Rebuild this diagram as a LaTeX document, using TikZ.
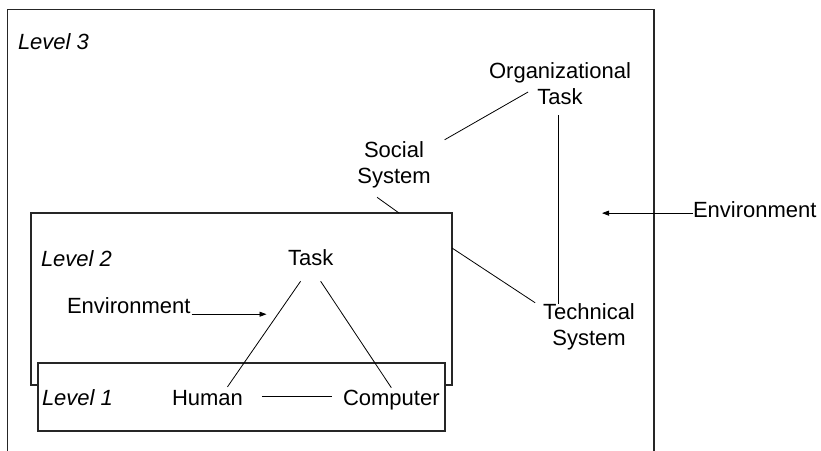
\documentclass[tikz,border=0pt]{standalone}
\usepackage{fontspec}
\setmainfont{Liberation Sans}
\usetikzlibrary{arrows.meta,calc}
\begin{document}
\begin{tikzpicture}[x=1pt,y=-1pt,
  lbl/.style={inner sep=0pt,outer sep=0pt,font=\fontsize{22}{26}\selectfont},
  lvl/.style={inner sep=0pt,outer sep=0pt,font=\fontsize{22}{26}\selectfont\itshape,anchor=base west},
  frame/.style={draw=black!85,line width=1.2pt,fill=white,inner sep=0pt,outer sep=0pt,anchor=north west},
  link/.style={draw=black,line width=0.8pt},
  push/.style={link,-{Triangle[length=7pt,width=5pt]}}]
\useasboundingbox (0,0) rectangle (821,450);
\clip (0,0) rectangle (821,450);

% nested system levels (outermost runs past the lower edge)
\node[frame,minimum width=646.5pt,minimum height=470pt] (lvl3) at (7.5,9.5) {};
\node[frame,minimum width=421pt,minimum height=172pt] (lvl2) at (31,213) {};
\node[frame,minimum width=407pt,minimum height=68pt] (lvl1) at (38,363) {};

% level captions
\node[lvl] (l3) at (18,49) {Level 3};
\node[lvl] (l2) at (41,266) {Level 2};
\node[lvl] (l1) at (42,405) {Level 1};

% elements
\node[lbl,anchor=base west] (task) at (288,265) {Task};
\node[lbl,anchor=base west] (human) at (172,405) {Human};
\node[lbl,anchor=base west] (comp) at (343,405) {Computer};
\node[lbl,anchor=base west] (envin) at (67,313) {Environment};
\node[lbl,anchor=base west] (envout) at (693,217) {Environment};
\node[lbl,align=center] (org) at (560,84) {Organizational\\Task};
\node[lbl,align=center] (soc) at (394,165) {Social\\System};
\node[lbl,align=center] (tech) at (589,327) {Technical\\System};

% relations
\draw[link] ($(task.south)+(-10,16)$) -- ($(human.north)+(20,-3)$);
\draw[link] ($(task.south)+(10,16)$) -- ($(comp.north)+(0,-2)$);
\draw[link] ($(human.east)+(19,-1)$) -- ($(human.east -| comp.west)+(-11,-1)$);
\draw[push] ($(envin.south east)+(1,1)$) -- ++(75,0);
\draw[push] ($(envout.west)+(0,4)$) -- ++(-91,0);
\draw[link] ($(org.west)+(39,8)$) -- ($(soc.north east)+(14,-2)$);
\coordinate (orgfoot) at ($(org.south)+(-2,10)$);
\draw[link] (orgfoot) -- (orgfoot |- tech.north);
\draw[link] ($(soc.south)+(-17,9)$) -- ($(lvl2.north west)+(368,0)$);
\draw[link] ($(lvl2.north east)+(0,35)$) -- ($(tech.north west)+(-8,-1)$);
\end{tikzpicture}
\end{document}
